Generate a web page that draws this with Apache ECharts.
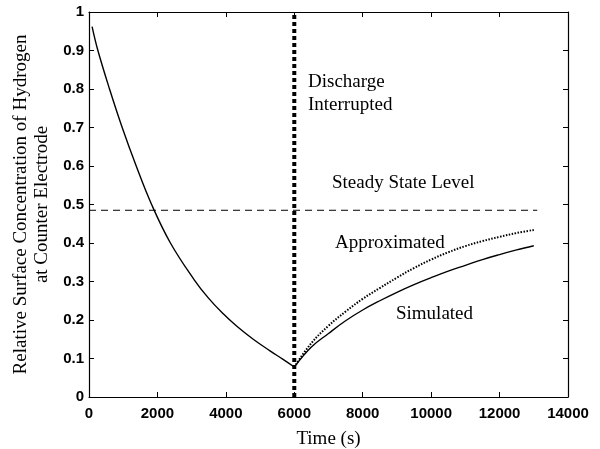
<!DOCTYPE html>
<html>
<head>
<meta charset="utf-8">
<script src="https://cdn.jsdelivr.net/npm/echarts@6/dist/echarts.min.js"></script>
<style>
  html, body { margin: 0; padding: 0; background: #fff; }
  #chart { width: 600px; height: 449px; }
</style>
</head>
<body>
<div id="chart"></div>
<script>
// discharge phase (s, relative concentration)
var dischargeTime = [90, 260, 600, 970, 1380, 1830, 2380, 3070, 3480, 3900, 4330, 4800, 5290, 5650, 6000];
var dischargeConc = [0.962, 0.9, 0.8, 0.7, 0.6, 0.5, 0.4, 0.305, 0.258, 0.218, 0.183, 0.15, 0.12, 0.099, 0.078];

// recovery after interruption
var recoveryTime = [6000, 6500, 7000, 7500, 8000, 8500, 9000, 9500, 10000, 10500, 11000, 11500, 12000, 12500, 13000];
var simulatedConc = [0.078, 0.13, 0.165, 0.198, 0.226, 0.25, 0.272, 0.292, 0.31, 0.327, 0.342, 0.357, 0.37, 0.382, 0.393];
var approxConc = [0.078, 0.14, 0.185, 0.222, 0.255, 0.283, 0.31, 0.335, 0.357, 0.376, 0.392, 0.405, 0.416, 0.426, 0.434];

var steadyState = 0.485;
var steadyRange = [0, 13100];
var interruptTime = 6000;

function pairs(xs, ys) {
  var out = [];
  for (var i = 0; i < xs.length; i++) out.push([xs[i], ys[i]]);
  return out;
}

var chart = echarts.init(document.getElementById('chart'), null, { renderer: 'canvas' });

var serif = '"Liberation Serif", "DejaVu Serif", serif';
var tickFont = { color: '#000', fontFamily: '"Liberation Sans", Arial, sans-serif', fontWeight: 'bold', fontSize: 15 };

// all four sides of the box carry inward ticks
var boxLine = { show: true, onZero: false, lineStyle: { color: '#000', width: 1.2 } };
var boxTick = { show: true, inside: true, length: 5, lineStyle: { color: '#000', width: 1 } };

var option = {
  animation: false,
  backgroundColor: '#fff',
  grid: { left: 89, right: 32, top: 12, bottom: 52, containLabel: false, outerBoundsMode: 'none' },
  xAxis: [{
    type: 'value', min: 0, max: 14000, interval: 2000,
    axisLine: boxLine, axisTick: boxTick,
    axisLabel: Object.assign({ margin: 9, formatter: function (v) { return String(v); } }, tickFont),
    splitLine: { show: false },
    name: 'Time (s)', nameLocation: 'middle', nameGap: 33,
    nameTextStyle: { color: '#000', fontFamily: serif, fontSize: 19 }
  }, {
    type: 'value', min: 0, max: 14000, interval: 2000, position: 'top',
    axisLine: boxLine, axisTick: boxTick,
    axisLabel: { show: false }, splitLine: { show: false }
  }],
  yAxis: [{
    type: 'value', min: 0, max: 1, interval: 0.1,
    axisLine: boxLine, axisTick: boxTick,
    axisLabel: Object.assign({ margin: 5, formatter: function (v) { return String(+v.toFixed(1)); } }, tickFont),
    splitLine: { show: false },
    name: 'Relative Surface Concentration of Hydrogen\nat Counter Electrode',
    nameLocation: 'middle', nameRotate: 90, nameGap: 28,
    nameTextStyle: { color: '#000', fontFamily: serif, fontSize: 19, lineHeight: 21 }
  }, {
    type: 'value', min: 0, max: 1, interval: 0.1, position: 'right',
    axisLine: boxLine, axisTick: boxTick,
    axisLabel: { show: false }, splitLine: { show: false }
  }],
  series: [{
    name: 'Discharge', type: 'line', showSymbol: false, smooth: 0.4,
    data: pairs(dischargeTime, dischargeConc),
    lineStyle: { color: '#000', width: 1.4 }
  }, {
    name: 'Simulated', type: 'line', showSymbol: false, smooth: 0.4,
    data: pairs(recoveryTime, simulatedConc),
    lineStyle: { color: '#000', width: 1.4 }
  }, {
    name: 'Approximated', type: 'line', showSymbol: false, smooth: 0.4,
    data: pairs(recoveryTime, approxConc),
    lineStyle: { color: '#000', width: 2, type: [1.5, 1.5] }
  }, {
    name: 'Steady State', type: 'line', showSymbol: false,
    data: [[steadyRange[0], steadyState], [steadyRange[1], steadyState]],
    lineStyle: { color: '#000', width: 1, type: [7, 5] }
  }, {
    name: 'Interrupt', type: 'line', showSymbol: false,
    data: [[interruptTime, 0], [interruptTime, 1]],
    lineStyle: { color: '#000', width: 4, type: [4, 3] }
  }],
  graphic: [
    { type: 'text', left: 308, top: 71, style: { text: 'Discharge\nInterrupted', fill: '#000', font: '19px ' + serif, lineHeight: 23 } },
    { type: 'text', left: 332, top: 174, style: { text: 'Steady State Level', fill: '#000', font: '19px ' + serif } },
    { type: 'text', left: 335, top: 234, style: { text: 'Approximated', fill: '#000', font: '19px ' + serif } },
    { type: 'text', left: 396, top: 305, style: { text: 'Simulated', fill: '#000', font: '19px ' + serif } }
  ]
};

chart.setOption(option);
</script>
</body>
</html>
